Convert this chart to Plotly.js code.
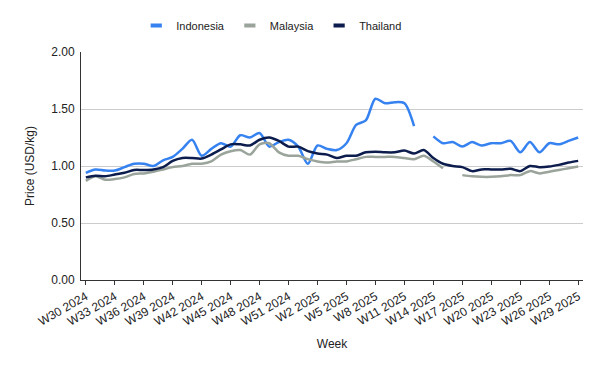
<!DOCTYPE html>
<html>
<head>
<meta charset="utf-8">
<script src="https://cdn.plot.ly/plotly-3.0.1.min.js"></script>
<style>html,body{margin:0;padding:0;background:#fff}#chart{width:600px;height:371px}</style>
</head>
<body>
<div id="chart"></div>
<script>
const weeks2024 = [];
for (let w = 30; w <= 52; w++) weeks2024.push('W' + w + ' 2024');
const weeks2025 = [];
for (let w = 1; w <= 29; w++) weeks2025.push('W' + w + ' 2025');
const weeks = weeks2024.concat(weeks2025);

const tickLabels = ['W30 2024','W33 2024','W36 2024','W39 2024','W42 2024','W45 2024','W48 2024','W51 2024',
  'W2 2025','W5 2025','W8 2025','W11 2025','W14 2025','W17 2025','W20 2025','W23 2025','W26 2025','W29 2025'];

const indonesia = [0.94,0.97,0.96,0.96,0.99,1.02,1.02,1.00,1.05,1.08,1.15,1.23,1.09,1.15,1.20,1.17,1.27,1.25,1.29,1.17,
  1.21,1.23,1.17,1.02,1.18,1.15,1.14,1.20,1.36,1.40,1.59,1.55,1.56,1.55,1.35,null,1.26,1.20,1.21,1.17,
  1.21,1.18,1.20,1.20,1.22,1.12,1.21,1.12,1.20,1.19,1.22,1.25];
const malaysia = [0.87,0.91,0.88,0.885,0.90,0.93,0.935,0.95,0.97,0.99,1.00,1.02,1.02,1.04,1.10,1.13,1.14,1.10,1.19,1.20,
  1.12,1.09,1.09,1.06,1.04,1.03,1.04,1.04,1.06,1.08,1.08,1.08,1.08,1.07,1.06,1.09,1.04,0.98,null,0.92,
  0.91,0.905,0.905,0.91,0.92,0.92,0.955,0.935,0.95,0.965,0.98,0.995];
const thailand = [0.90,0.915,0.91,0.925,0.94,0.965,0.965,0.97,0.99,1.045,1.07,1.07,1.065,1.10,1.145,1.19,1.19,1.18,1.23,1.25,
  1.22,1.17,1.17,1.13,1.11,1.10,1.07,1.09,1.09,1.12,1.125,1.12,1.12,1.135,1.11,1.14,1.07,1.02,1.00,0.99,
  0.955,0.97,0.97,0.97,0.975,0.955,1.00,0.99,0.995,1.01,1.03,1.045];

const seriesNames = ['Indonesia','Malaysia','Thailand'];
const seriesColors = ['#3582f0','#9aa49b','#0c1d4d'];
const seriesData = [indonesia, malaysia, thailand];

const traces = [];
seriesData.forEach((vals, k) => {
  traces.push({
    type: 'scatter', mode: 'lines', x: weeks, y: vals, name: seriesNames[k],
    line: {color: seriesColors[k], width: 2.5, shape: 'spline', smoothing: 0.8},
    connectgaps: false, showlegend: false, hoverinfo: 'x+y+name'
  });
});
seriesData.forEach((vals, k) => {
  traces.push({
    type: 'scatter', mode: 'markers', x: [null], y: [null], name: seriesNames[k],
    marker: {symbol: 'line-ew', size: 8, color: seriesColors[k], line: {color: seriesColors[k], width: 4}},
    showlegend: true, hoverinfo: 'skip'
  });
});

const layout = {
  width: 600, height: 371,
  margin: {l: 81, r: 17, t: 52, b: 91},
  paper_bgcolor: '#ffffff', plot_bgcolor: '#ffffff',
  font: {family: '"Liberation Sans", Arial, sans-serif', size: 12, color: '#222222'},
  showlegend: true,
  legend: {orientation: 'h', x: 0.38, xanchor: 'center', yref: 'container', y: 0.931, yanchor: 'middle',
    font: {size: 11, color: '#222222'}, itemwidth: 30, tracegroupgap: 0},
  xaxis: {
    type: 'category', categoryorder: 'array', categoryarray: weeks,
    range: [-0.5, weeks.length - 0.5],
    tickmode: 'array', tickvals: tickLabels, ticktext: tickLabels,
    tickangle: -30, ticks: 'outside', ticklen: 4, tickcolor: '#333333', tickwidth: 1,
    showgrid: false, showline: true, linecolor: '#333333', linewidth: 1,
    tickfont: {size: 12, color: '#222222'},
    title: {text: 'Week', font: {size: 12, color: '#222222'}, standoff: 12},
    zeroline: false, fixedrange: true
  },
  yaxis: {
    range: [0, 2], tickmode: 'array', tickvals: [0, 0.5, 1, 1.5, 2],
    ticktext: ['0.00','0.50','1.00','1.50','2.00'],
    showgrid: true, gridcolor: '#cccccc', gridwidth: 1,
    showline: true, linecolor: '#333333', linewidth: 1,
    zeroline: false, ticks: '', ticklabelstandoff: 3,
    tickfont: {size: 12, color: '#222222'},
    title: {text: 'Price (USD/kg)', font: {size: 12, color: '#222222'}, standoff: 14},
    fixedrange: true
  }
};

Plotly.newPlot('chart', traces, layout, {displayModeBar: false, staticPlot: true});
</script>
</body>
</html>
